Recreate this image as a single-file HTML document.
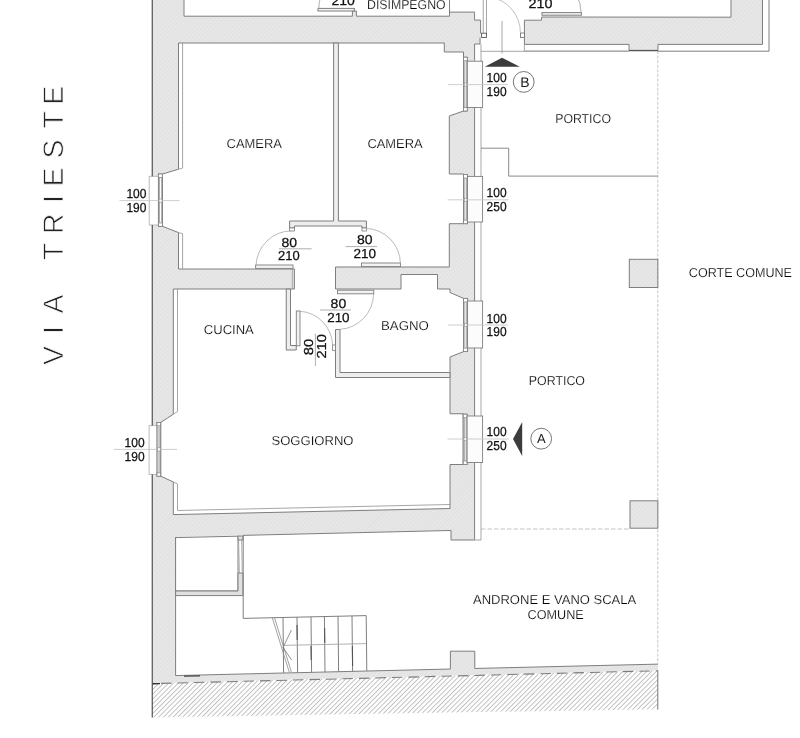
<!DOCTYPE html>
<html lang="it"><head><meta charset="utf-8"><title>Pianta piano terra - Via Trieste</title>
<style>html,body{margin:0;padding:0;background:#fff}body{width:800px;height:738px;overflow:hidden}svg{display:block;will-change:transform;text-rendering:geometricPrecision}text{font-family:"Liberation Sans",sans-serif;fill:#1c1c1c}.lab{font-size:13px;fill:#000;stroke:#fff;stroke-width:.2px}.num{font-size:13px;fill:#111;stroke:#111;stroke-width:.25px}.via{font-size:28.4px;fill:#222;stroke:#fff;stroke-width:.75px}</style></head><body>
<svg width="800" height="738" viewBox="0 0 800 738">
<defs><pattern id="hw" width="3" height="3" patternUnits="userSpaceOnUse" patternTransform="rotate(-45)"><rect width="3" height="3" fill="#e7e7e7"/><rect width="3" height="1" fill="#e0e0e0"/></pattern><pattern id="hg" width="3.4" height="3.4" patternUnits="userSpaceOnUse" patternTransform="rotate(-45)"><rect width="3.4" height="3.4" fill="#fff"/><rect width="3.4" height="0.9" fill="#bcbcbc"/></pattern></defs>
<rect width="800" height="738" fill="#fff"/>
<polygon points="152,683.215 658,670.363 658,709.2 152,717.4" fill="url(#hg)" stroke="none" stroke-width="1" />
<line x1="657.8" y1="670.363" x2="657.8" y2="709.5" stroke="#777" stroke-width="1" />
<polygon points="152,-2 449.5,-2 449.5,12.1 474.6,12.1 474.6,20.1 480.6,20.1 480.6,44 474.6,44 474.6,540 451,540 451,530.474 175.6,536.946 175.6,675.593 450.4,669.038 450.4,651.2 474.8,651.2 474.8,668.467 658,664.112 658,670.363 152,683.215" fill="url(#hw)" stroke="none" stroke-width="1" />
<polyline points="449.5,12.1 474.6,12.1 474.6,20.1 480.6,20.1 480.6,33.5" fill="none" stroke="#7e7e7e" stroke-width="1" />
<polyline points="480,37.5 480,44 474.6,44 474.6,60.7" fill="none" stroke="#7e7e7e" stroke-width="1" />
<polyline points="474.6,107 474.6,176" fill="none" stroke="#7e7e7e" stroke-width="1" />
<polyline points="474.6,222 474.6,301" fill="none" stroke="#7e7e7e" stroke-width="1" />
<polyline points="474.6,348 474.6,416" fill="none" stroke="#7e7e7e" stroke-width="1" />
<polyline points="474.6,462.5 474.6,540 451,540 451,530.474 243,535.362" fill="none" stroke="#7e7e7e" stroke-width="1" />
<polyline points="175.6,536.946 175.6,675.593 450.4,669.038 450.4,651.2 474.8,651.2 474.8,668.467 658,664.112" fill="none" stroke="#7e7e7e" stroke-width="1" />
<polygon points="184,-2 184,16.2 352.4,16.2 352.4,11 356.4,11 356.4,16.2 449.5,16.2 449.5,-2" fill="#fff" stroke="#7e7e7e" stroke-width="1" />
<rect x="318" y="8.4" width="36.4" height="2.6" fill="#f4f4f4" stroke="#7e7e7e" stroke-width="1" />
<path d="M318.6 9 A36 36 0 0 1 322 -6" fill="none" stroke="#9c9c9c" stroke-width="0.8"/>
<polygon points="178.5,43 444.3,43 444.3,52 463.5,52 463.5,111 449.3,116 449.3,174 463.6,174 463.6,223.7 449.3,223.7 449.3,267 335.5,267 335.5,289 401,289 401,274.5 437.5,274.5 437.5,289 450,289 450,292.5 463.6,298.4 463.6,351.6 450,357 450,413.75 463.2,413.75 463.2,464.5 450,464.5 450,508.513 173.3,514.6 173.3,481.9 160.7,476.2 160.7,422.5 173.3,414.2 173.3,289 294.4,289 294.4,269 178.5,269 178.5,232.6 162.5,226.3 162.5,174 178.5,169.2" fill="#fff" stroke="#7e7e7e" stroke-width="1" />
<polyline points="178.5,169.2 182.6,168.1 182.6,43" fill="none" stroke="#9c9c9c" stroke-width="0.9" />
<polyline points="178.5,232.6 182.6,233.6 182.6,269" fill="none" stroke="#9c9c9c" stroke-width="0.9" />
<polyline points="173.3,414.2 177.5,411.6 177.5,289" fill="none" stroke="#9c9c9c" stroke-width="0.9" />
<polyline points="173.3,481.9 177.5,484 177.5,510.508 450,504.513" fill="none" stroke="#9c9c9c" stroke-width="0.9" />
<line x1="292.4" y1="269" x2="292.4" y2="289" stroke="#9c9c9c" stroke-width="0.8" />
<polygon points="175.6,537.6 238,536.2 238,591 175.6,591" fill="#fff" stroke="#7e7e7e" stroke-width="1" />
<polygon points="175.6,591 238,591 238,573 243,573 243,595.6 175.6,595.6" fill="#e0e0e0" stroke="#7e7e7e" stroke-width="1" />
<rect x="238" y="536" width="5" height="4" fill="#e0e0e0" stroke="#7e7e7e" stroke-width="1" />
<line x1="238.6" y1="540" x2="239.4" y2="573" stroke="#9c9c9c" stroke-width="0.8" />
<line x1="241.6" y1="540" x2="242.2" y2="573" stroke="#9c9c9c" stroke-width="0.8" />
<polyline points="243.2,535.5 243.2,618.4 366.2,615.6" fill="none" stroke="#7e7e7e" stroke-width="1" />
<line x1="283" y1="617.488" x2="283.6" y2="673.037" stroke="#808080" stroke-width="1" />
<line x1="297" y1="617.169" x2="297.6" y2="672.703" stroke="#808080" stroke-width="1" />
<line x1="311" y1="616.85" x2="311.6" y2="672.37" stroke="#808080" stroke-width="1" />
<line x1="324.4" y1="616.544" x2="325" y2="672.051" stroke="#808080" stroke-width="1" />
<line x1="338" y1="616.234" x2="338.6" y2="671.728" stroke="#808080" stroke-width="1" />
<line x1="352" y1="615.915" x2="352.6" y2="671.394" stroke="#808080" stroke-width="1" />
<line x1="366.2" y1="615.591" x2="366.8" y2="671.056" stroke="#808080" stroke-width="1" />
<line x1="283" y1="645.4" x2="366.4" y2="643.6" stroke="#9c9c9c" stroke-width="0.8" />
<line x1="272.4" y1="618" x2="289.2" y2="672" stroke="#8a8a8a" stroke-width="0.8" />
<line x1="274.6" y1="618" x2="291.4" y2="672" stroke="#8a8a8a" stroke-width="0.8" />
<polyline points="291.4,630 283,647.5 291.6,660" fill="none" stroke="#777" stroke-width="0.8" />
<line x1="297" y1="625" x2="297.2" y2="640" stroke="#555" stroke-width="1.1" />
<line x1="324.6" y1="628" x2="324.8" y2="643" stroke="#555" stroke-width="1.1" />
<line x1="352.4" y1="646" x2="352.6" y2="666" stroke="#555" stroke-width="1.1" />
<line x1="311" y1="646" x2="311.2" y2="660" stroke="#555" stroke-width="1.1" />
<line x1="657.8" y1="51" x2="657.8" y2="664.112" stroke="#bdbdbd" stroke-width="0.9" stroke-dasharray="3 1.6"/>
<line x1="481" y1="529" x2="630" y2="529" stroke="#bdbdbd" stroke-width="0.9" stroke-dasharray="4.5 2"/>
<line x1="152" y1="683.615" x2="658" y2="670.763" stroke="#7c7c7c" stroke-width="1.1" stroke-dasharray="10.5 6" stroke-dashoffset="-9"/>
<line x1="152" y1="683.815" x2="160" y2="683.612" stroke="#333" stroke-width="1.4" />
<line x1="184" y1="676.2" x2="200" y2="675.8" stroke="#444" stroke-width="1.3" />
<rect x="629.3" y="259.3" width="28.5" height="28.2" fill="url(#hw)" stroke="#7e7e7e" stroke-width="1" />
<rect x="630" y="500.8" width="27.8" height="27.4" fill="url(#hw)" stroke="#7e7e7e" stroke-width="1" />
<polygon points="524.4,20.2 541.6,20.2 541.6,17 731,17.2 731,-2 762.5,-2 762.5,44.4 658,44.4 658,50.4 629,50.4 629,44.4 524.4,44.4" fill="url(#hw)" stroke="#7e7e7e" stroke-width="1" />
<polyline points="769,-2 769,51.2 658,51.2" fill="none" stroke="#7e7e7e" stroke-width="1" />
<polyline points="629,51 524.4,51 524.4,44.4" fill="none" stroke="#9c9c9c" stroke-width="0.9" />
<line x1="629" y1="50.6" x2="658" y2="50.6" stroke="#555" stroke-width="1.3" />
<rect x="520.4" y="33" width="4" height="4.5" fill="#fff" stroke="#666" stroke-width="0.8" />
<rect x="542" y="12.6" width="39.4" height="2.6" fill="#f4f4f4" stroke="#7e7e7e" stroke-width="1" />
<path d="M581.2 13 A39.5 39.5 0 0 0 576 -6" fill="none" stroke="#9c9c9c" stroke-width="0.8"/>
<rect x="483.2" y="-2" width="3.2" height="37.5" fill="#fff" stroke="#9a9a9a" stroke-width="0.9" />
<rect x="481.6" y="33.2" width="4.8" height="4.3" fill="#fff" stroke="#555" stroke-width="0.9" />
<path d="M490 -3 A36 36 0 0 1 520.4 33" fill="none" stroke="#b0b0b0" stroke-width="0.8"/>
<line x1="480.8" y1="51.3" x2="629" y2="51.3" stroke="#9c9c9c" stroke-width="0.9" />
<line x1="502" y1="21" x2="502" y2="53.5" stroke="#9c9c9c" stroke-width="0.9" />
<line x1="481" y1="44" x2="481" y2="540" stroke="#9c9c9c" stroke-width="0.9" />
<line x1="474.6" y1="540" x2="481" y2="540" stroke="#9c9c9c" stroke-width="0.9" />
<polyline points="481,148.2 508.7,148.2 508.7,176.1 657.8,176.1" fill="none" stroke="#7e7e7e" stroke-width="0.9" />
<polygon points="333.6,43 338.4,43 338.4,221 366.4,221 366.4,228 362,228 362,226 294.5,226 294.5,228 289.6,228 289.6,221 333.6,221" fill="#ededed" stroke="#7e7e7e" stroke-width="1" />
<rect x="289.6" y="228" width="4.9" height="3" fill="#fff" stroke="#7e7e7e" stroke-width="0.8" />
<rect x="362" y="228" width="4.4" height="3" fill="#fff" stroke="#7e7e7e" stroke-width="0.8" />
<polygon points="286.25,289 290.5,289 290.5,345.5 296.25,345.5 296.25,350 286.25,350" fill="#ededed" stroke="#7e7e7e" stroke-width="1" />
<polygon points="335.5,329.5 340,329.5 340,372.5 450,372.5 450,377.5 335.5,377.5" fill="#ededed" stroke="#7e7e7e" stroke-width="1" />
<rect x="255.6" y="265" width="37.4" height="3.4" fill="#f2f2f2" stroke="#7e7e7e" stroke-width="0.9" />
<path d="M256 265.5 A36 36 0 0 1 291.5 230.8" fill="none" stroke="#a8a8a8" stroke-width="0.8"/>
<rect x="361.5" y="263" width="39" height="3.6" fill="#f2f2f2" stroke="#7e7e7e" stroke-width="0.9" />
<path d="M365.8 228.4 A35.5 35.5 0 0 1 400.4 263.2" fill="none" stroke="#a8a8a8" stroke-width="0.8"/>
<rect x="337.5" y="290.2" width="36.3" height="3.6" fill="#f2f2f2" stroke="#7e7e7e" stroke-width="0.9" />
<path d="M373.6 293.6 A36 36 0 0 1 339.5 329.4" fill="none" stroke="#a8a8a8" stroke-width="0.8"/>
<rect x="296.3" y="311" width="3.7" height="34.8" fill="#f2f2f2" stroke="#7e7e7e" stroke-width="0.9" />
<path d="M299.6 311.2 A35 35 0 0 1 332.6 345.6" fill="none" stroke="#a8a8a8" stroke-width="0.8"/>
<rect x="332.6" y="345" width="2.8" height="5.6" fill="#fff" stroke="#7e7e7e" stroke-width="0.8" />
<rect x="463.5" y="57.2" width="3.8" height="53.8" fill="#fff" stroke="#7e7e7e" stroke-width="0.9" />
<rect x="463.5" y="57.2" width="3.8" height="3.6" fill="#fff" stroke="#7e7e7e" stroke-width="0.8" />
<rect x="463.5" y="107.4" width="3.8" height="3.6" fill="#fff" stroke="#7e7e7e" stroke-width="0.8" />
<rect x="467.3" y="61.2" width="15.3" height="46.3" fill="#fcfcfc" stroke="#7e7e7e" stroke-width="0.9" />
<line x1="464.7" y1="61.2" x2="464.7" y2="107" stroke="#8a8a8a" stroke-width="0.7" />
<line x1="466.3" y1="61.2" x2="466.3" y2="107" stroke="#8a8a8a" stroke-width="0.7" />
<line x1="448" y1="84.6" x2="508" y2="84.6" stroke="#c2c2c2" stroke-width="0.8" />
<rect x="464.3" y="83" width="2.4" height="3.2" fill="#fff" stroke="#8a8a8a" stroke-width="0.6" />
<rect x="463.6" y="174.5" width="3.9" height="49.2" fill="#fff" stroke="#7e7e7e" stroke-width="0.9" />
<rect x="463.6" y="174.5" width="3.9" height="3.6" fill="#fff" stroke="#7e7e7e" stroke-width="0.8" />
<rect x="463.6" y="220.1" width="3.9" height="3.6" fill="#fff" stroke="#7e7e7e" stroke-width="0.8" />
<rect x="467.5" y="176.4" width="15.1" height="45.6" fill="#fcfcfc" stroke="#7e7e7e" stroke-width="0.9" />
<line x1="464.8" y1="178.5" x2="464.8" y2="219.7" stroke="#8a8a8a" stroke-width="0.7" />
<line x1="466.5" y1="178.5" x2="466.5" y2="219.7" stroke="#8a8a8a" stroke-width="0.7" />
<line x1="447.6" y1="199.8" x2="508.6" y2="199.8" stroke="#c2c2c2" stroke-width="0.8" />
<rect x="464.4" y="198.2" width="2.5" height="3.2" fill="#fff" stroke="#8a8a8a" stroke-width="0.6" />
<rect x="463.6" y="298.4" width="4" height="53.2" fill="#fff" stroke="#7e7e7e" stroke-width="0.9" />
<rect x="463.6" y="298.4" width="4" height="3.6" fill="#fff" stroke="#7e7e7e" stroke-width="0.8" />
<rect x="463.6" y="348" width="4" height="3.6" fill="#fff" stroke="#7e7e7e" stroke-width="0.8" />
<rect x="467.6" y="301" width="15" height="47" fill="#fcfcfc" stroke="#7e7e7e" stroke-width="0.9" />
<line x1="464.8" y1="302.4" x2="464.8" y2="347.6" stroke="#8a8a8a" stroke-width="0.7" />
<line x1="466.6" y1="302.4" x2="466.6" y2="347.6" stroke="#8a8a8a" stroke-width="0.7" />
<line x1="448" y1="325" x2="508" y2="325" stroke="#c2c2c2" stroke-width="0.8" />
<rect x="464.4" y="323.4" width="2.6" height="3.2" fill="#fff" stroke="#8a8a8a" stroke-width="0.6" />
<rect x="463.2" y="414.2" width="3.9" height="50.3" fill="#fff" stroke="#7e7e7e" stroke-width="0.9" />
<rect x="463.2" y="414.2" width="3.9" height="3.6" fill="#fff" stroke="#7e7e7e" stroke-width="0.8" />
<rect x="463.2" y="460.9" width="3.9" height="3.6" fill="#fff" stroke="#7e7e7e" stroke-width="0.8" />
<rect x="467.1" y="416" width="15.5" height="46.5" fill="#fcfcfc" stroke="#7e7e7e" stroke-width="0.9" />
<line x1="464.4" y1="418.2" x2="464.4" y2="460.5" stroke="#8a8a8a" stroke-width="0.7" />
<line x1="466.1" y1="418.2" x2="466.1" y2="460.5" stroke="#8a8a8a" stroke-width="0.7" />
<line x1="447.5" y1="439" x2="508.7" y2="439" stroke="#c2c2c2" stroke-width="0.8" />
<rect x="464" y="437.4" width="2.5" height="3.2" fill="#fff" stroke="#8a8a8a" stroke-width="0.6" />
<rect x="149.2" y="176.3" width="9.2" height="48.7" fill="#fff" stroke="#b4b4b4" stroke-width="0.9" />
<rect x="158.4" y="174" width="4.1" height="52.3" fill="#fff" stroke="#7e7e7e" stroke-width="0.9" />
<rect x="158.4" y="174" width="4.1" height="3.4" fill="#fff" stroke="#7e7e7e" stroke-width="0.8" />
<rect x="158.4" y="222.9" width="4.1" height="3.4" fill="#fff" stroke="#7e7e7e" stroke-width="0.8" />
<line x1="159.5" y1="178" x2="159.5" y2="222.3" stroke="#8a8a8a" stroke-width="0.7" />
<line x1="161.6" y1="178" x2="161.6" y2="222.3" stroke="#8a8a8a" stroke-width="0.7" />
<line x1="119.5" y1="200.6" x2="179.5" y2="200.6" stroke="#c2c2c2" stroke-width="0.8" />
<rect x="159.1" y="199" width="2.9" height="3.2" fill="#fff" stroke="#8a8a8a" stroke-width="0.6" />
<rect x="149.1" y="425.6" width="7.9" height="48.8" fill="#fff" stroke="#b4b4b4" stroke-width="0.9" />
<rect x="157" y="422.5" width="3.7" height="53.7" fill="#fff" stroke="#7e7e7e" stroke-width="0.9" />
<rect x="157" y="422.5" width="3.7" height="3.4" fill="#fff" stroke="#7e7e7e" stroke-width="0.8" />
<rect x="157" y="472.8" width="3.7" height="3.4" fill="#fff" stroke="#7e7e7e" stroke-width="0.8" />
<line x1="158.1" y1="426.5" x2="158.1" y2="472.2" stroke="#8a8a8a" stroke-width="0.7" />
<line x1="159.8" y1="426.5" x2="159.8" y2="472.2" stroke="#8a8a8a" stroke-width="0.7" />
<line x1="113.8" y1="449.4" x2="177" y2="449.4" stroke="#c2c2c2" stroke-width="0.8" />
<rect x="157.7" y="447.8" width="2.5" height="3.2" fill="#fff" stroke="#8a8a8a" stroke-width="0.6" />
<line x1="152.25" y1="-2" x2="152.25" y2="176.3" stroke="#4c4c4c" stroke-width="1.15" />
<line x1="152.25" y1="225" x2="152.25" y2="425.6" stroke="#4c4c4c" stroke-width="1.15" />
<line x1="152.25" y1="474.4" x2="152.25" y2="717.6" stroke="#4c4c4c" stroke-width="1.15" />
<polygon points="502,57.8 519.8,66.8 484.8,66.8" fill="#3c3c3c" stroke="none" stroke-width="1" />
<polygon points="513,439 522.2,422 522.2,456" fill="#3c3c3c" stroke="none" stroke-width="1" />
<circle cx="523.7" cy="81.9" r="10.4" fill="#fff" stroke="#666" stroke-width="0.9"/>
<circle cx="541.2" cy="438.7" r="10.4" fill="#fff" stroke="#666" stroke-width="0.9"/>
<text x="524.9" y="87.2" text-anchor="middle" style="font-size:14px">B</text>
<text x="541.3" y="443.2" text-anchor="middle" style="font-size:13px">A</text>
<text class="num" x="486.6" y="82" text-anchor="start" textLength="20" lengthAdjust="spacingAndGlyphs">100</text>
<text class="num" x="486.6" y="95.6" text-anchor="start" textLength="20" lengthAdjust="spacingAndGlyphs">190</text>
<text class="num" x="486.6" y="197" text-anchor="start" textLength="20" lengthAdjust="spacingAndGlyphs">100</text>
<text class="num" x="486.6" y="210.7" text-anchor="start" textLength="20" lengthAdjust="spacingAndGlyphs">250</text>
<text class="num" x="486.6" y="323" text-anchor="start" textLength="20" lengthAdjust="spacingAndGlyphs">100</text>
<text class="num" x="486.6" y="336.4" text-anchor="start" textLength="20" lengthAdjust="spacingAndGlyphs">190</text>
<text class="num" x="486.6" y="436" text-anchor="start" textLength="20" lengthAdjust="spacingAndGlyphs">100</text>
<text class="num" x="486.6" y="449.6" text-anchor="start" textLength="20" lengthAdjust="spacingAndGlyphs">250</text>
<text class="num" x="126.4" y="198" text-anchor="start" textLength="20" lengthAdjust="spacingAndGlyphs">100</text>
<text class="num" x="126.4" y="211.8" text-anchor="start" textLength="20" lengthAdjust="spacingAndGlyphs">190</text>
<text class="num" x="124.6" y="447" text-anchor="start" textLength="20" lengthAdjust="spacingAndGlyphs">100</text>
<text class="num" x="124.6" y="461.2" text-anchor="start" textLength="20" lengthAdjust="spacingAndGlyphs">190</text>
<text class="num" x="281.4" y="247" text-anchor="start" textLength="15.6" lengthAdjust="spacingAndGlyphs">80</text>
<text class="num" x="278" y="260.4" text-anchor="start" textLength="21.6" lengthAdjust="spacingAndGlyphs">210</text>
<line x1="279" y1="248.8" x2="311.6" y2="248.8" stroke="#9a9a9a" stroke-width="0.8" />
<text class="num" x="357" y="244.4" text-anchor="start" textLength="15.6" lengthAdjust="spacingAndGlyphs">80</text>
<text class="num" x="353.4" y="258" text-anchor="start" textLength="22.6" lengthAdjust="spacingAndGlyphs">210</text>
<line x1="345.6" y1="246.6" x2="377" y2="246.6" stroke="#9a9a9a" stroke-width="0.8" />
<text class="num" x="330.6" y="308" text-anchor="start" textLength="15.6" lengthAdjust="spacingAndGlyphs">80</text>
<text class="num" x="327.2" y="322" text-anchor="start" textLength="22.4" lengthAdjust="spacingAndGlyphs">210</text>
<line x1="320" y1="310" x2="351" y2="310" stroke="#9a9a9a" stroke-width="0.8" />
<g transform="translate(313 358) rotate(-90)">
<text class="num" x="2.8" y="0" text-anchor="start" textLength="16.4" lengthAdjust="spacingAndGlyphs">80</text>
<text class="num" x="-0.6" y="13" text-anchor="start" textLength="24.6" lengthAdjust="spacingAndGlyphs">210</text>
</g>
<line x1="315.4" y1="333.8" x2="315.4" y2="366" stroke="#9a9a9a" stroke-width="0.8" />
<text class="num" x="331.4" y="5" text-anchor="start" textLength="23.4" lengthAdjust="spacingAndGlyphs">210</text>
<text class="num" x="528.6" y="7.8" text-anchor="start" textLength="24" lengthAdjust="spacingAndGlyphs">210</text>
<text class="lab" x="226.6" y="148.4" textLength="55.4" lengthAdjust="spacingAndGlyphs">CAMERA</text>
<text class="lab" x="367.4" y="148.4" textLength="55.2" lengthAdjust="spacingAndGlyphs">CAMERA</text>
<text class="lab" x="555.2" y="123.2" textLength="55.8" lengthAdjust="spacingAndGlyphs">PORTICO</text>
<text class="lab" x="528.8" y="385" textLength="56.2" lengthAdjust="spacingAndGlyphs">PORTICO</text>
<text class="lab" x="688.8" y="277" textLength="103.2" lengthAdjust="spacingAndGlyphs">CORTE COMUNE</text>
<text class="lab" x="203.8" y="334.4" textLength="50" lengthAdjust="spacingAndGlyphs">CUCINA</text>
<text class="lab" x="381" y="330" textLength="47.8" lengthAdjust="spacingAndGlyphs">BAGNO</text>
<text class="lab" x="271.5" y="445" textLength="82" lengthAdjust="spacingAndGlyphs">SOGGIORNO</text>
<text class="lab" x="473" y="604.4" textLength="163.2" lengthAdjust="spacingAndGlyphs">ANDRONE E VANO SCALA</text>
<text class="lab" x="527.5" y="619.4" textLength="56.2" lengthAdjust="spacingAndGlyphs">COMUNE</text>
<text class="lab" x="367" y="8.8" textLength="78.6" lengthAdjust="spacingAndGlyphs">DISIMPEGNO</text>
<text class="via" transform="translate(62.6 364) rotate(-90)" x="-1.1 29.9 50.5 82.1 103.7 130.0 160.9 177.6 205.6 235.5 259.3" y="0">VIA TRIESTE</text>
</svg></body></html>
